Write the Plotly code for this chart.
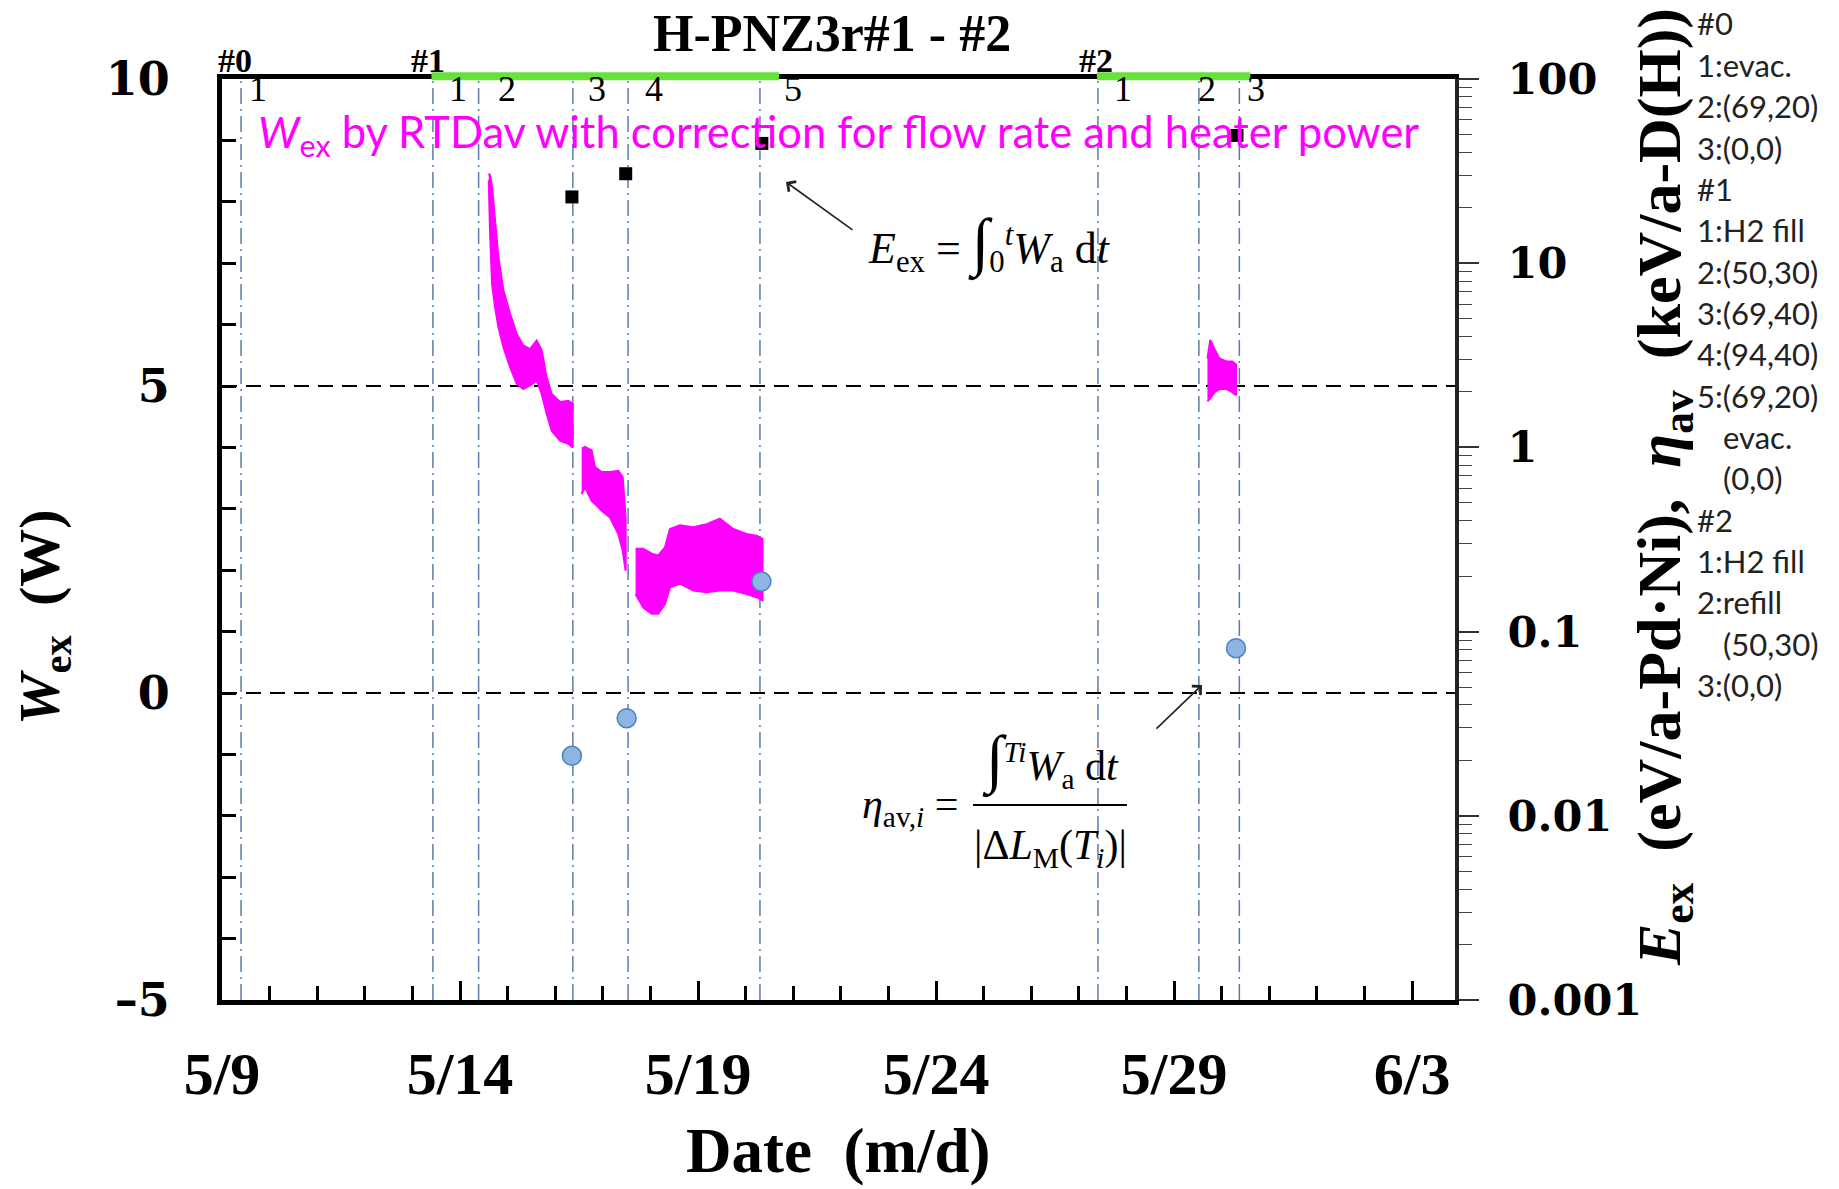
import plotly.graph_objects as go
import pandas as pd

START = pd.Timestamp("2014-05-09")
X_END_DAYS = 25.9

# ---- data (days since 5/9 00:00) ----
event_days = [0.40, 4.43, 5.39, 7.37, 8.53, 11.30, 18.40, 20.52, 21.37]
stage_label_text = ["1", "1", "2", "3", "4", "5", "1", "2", "3"]
stage_label_days = [0.75, 4.96, 5.98, 7.88, 9.08, 11.99, 18.93, 20.69, 21.72]
phase_text = ["#0", "#1", "#2"]
phase_days = [0.27, 4.33, 18.36]
h2_on_days = [4.40, 18.38]
h2_off_days = [11.70, 21.60]

# W_ex (RTDav) band: upper / lower envelopes
seg1_t = [5.603, 5.631, 5.673, 5.736, 5.806, 5.911, 6.050, 6.190, 6.330, 6.470, 6.610, 6.715, 6.820, 6.925, 7.100, 7.275, 7.366]
seg1_hi = [8.46, 8.43, 8.24, 7.75, 7.10, 6.56, 6.18, 5.85, 5.66, 5.60, 5.74, 5.58, 5.14, 4.87, 4.74, 4.76, 4.71]
seg1_lo = [8.35, 7.48, 6.66, 6.28, 5.96, 5.63, 5.31, 5.04, 4.95, 5.01, 5.09, 4.87, 4.55, 4.27, 4.11, 4.06, 4.00]

seg2_t = [7.555, 7.625, 7.765, 7.835, 7.975, 8.150, 8.325, 8.416, 8.479]
seg2_hi = [3.98, 4.01, 3.95, 3.68, 3.60, 3.60, 3.62, 3.52, 2.86]
seg2_lo = [3.24, 3.35, 3.13, 3.08, 2.97, 2.86, 2.59, 2.32, 1.99]

seg3_t = [8.688, 8.849, 9.024, 9.164, 9.304, 9.409, 9.619, 9.899, 10.179, 10.459, 10.738, 11.018, 11.228, 11.354]
seg3_hi = [2.35, 2.35, 2.27, 2.24, 2.37, 2.67, 2.73, 2.70, 2.75, 2.84, 2.67, 2.59, 2.56, 2.51]
seg3_lo = [1.61, 1.39, 1.29, 1.29, 1.45, 1.72, 1.78, 1.67, 1.64, 1.67, 1.67, 1.61, 1.56, 1.51]

seg4_t = [20.70, 20.76, 20.85, 20.95, 21.10, 21.22, 21.30]
seg4_hi = [5.45, 5.75, 5.60, 5.45, 5.40, 5.40, 5.35]
seg4_lo = [4.75, 4.80, 4.90, 4.95, 4.95, 4.90, 4.85]

# E_ex (eV/a-Pd.Ni) and eta_av (keV/a-D(H)) on the log axis
eex_days = [7.35, 8.48, 11.34, 21.32]
eex_vals = [22.9, 30.6, 44.7, 49.4]
eta_days = [7.35, 8.50, 11.33, 21.30]
eta_vals = [0.0212, 0.0339, 0.187, 0.0813]

# axis tick labels
x_tick_days = [0, 5, 10, 15, 20, 25]
x_tick_text = ["5/9", "5/14", "5/19", "5/24", "5/29", "6/3"]
y_tick_vals = [-5, 0, 5, 10]
y_tick_text = ["\u20135", "0", "5", "10"]
y2_tick_vals = [0.001, 0.01, 0.1, 1, 10, 100]
y2_tick_text = ["0.001", "0.01", "0.1", "1", "10", "100"]

notes = ["#0", "1:evac.", "2:(69,20)", "3:(0,0)", "#1", "1:H2 fill", "2:(50,30)",
         "3:(69,40)", "4:(94,40)", "5:(69,20)", "evac.", "(0,0)", "#2",
         "1:H2 fill", "2:refill", "(50,30)", "3:(0,0)"]
notes_indent = [0, 0, 0, 0, 0, 0, 0, 0, 0, 0, 1, 1, 0, 0, 0, 1, 0]


def to_dt(days):
    return [START + pd.Timedelta(days=d) for d in days]


# ---- layout geometry (pixels) ----
W, H = 1839, 1189
L, R, T, B = 222, 1455, 79, 1000


def px(X):
    return (X - L) / (R - L)


def py(Y):
    return (B - Y) / (B - T)


SERIF = "Liberation Serif"
HEAVY = "DejaVu Serif"
SANS = "Lato"
MAG = "#ff00ff"

fig = go.Figure()

for t, hi, lo in [(seg1_t, seg1_hi, seg1_lo), (seg2_t, seg2_hi, seg2_lo),
                  (seg3_t, seg3_hi, seg3_lo), (seg4_t, seg4_hi, seg4_lo)]:
    fig.add_trace(go.Scatter(
        x=to_dt(t + t[::-1]), y=hi + lo[::-1], mode="lines", fill="toself",
        fillcolor=MAG, line=dict(color=MAG, width=2), hoverinfo="skip",
        showlegend=False))

fig.add_trace(go.Scatter(
    x=to_dt(eex_days), y=eex_vals, yaxis="y2", mode="markers",
    marker=dict(symbol="square", size=13, color="black"), showlegend=False))
fig.add_trace(go.Scatter(
    x=to_dt(eta_days), y=eta_vals, yaxis="y2", mode="markers",
    marker=dict(symbol="circle", size=19, color="#8db4e2",
                line=dict(color="#4f81bd", width=1.5)), showlegend=False))

shapes = []
for d in event_days:
    x = START + pd.Timedelta(days=d)
    shapes.append(dict(type="line", xref="x", yref="paper", x0=x, x1=x, y0=0, y1=1,
                       layer="below",
                       line=dict(color="#5b7cab", width=1.5, dash="16px,5px,2px,5px")))
for yv in [5, 0]:
    shapes.append(dict(type="line", xref="paper", yref="y", x0=0, x1=1, y0=yv, y1=yv,
                       layer="below", line=dict(color="black", width=2, dash="15px,9px")))
for a, b in zip(h2_on_days, h2_off_days):
    shapes.append(dict(type="line", xref="x", yref="paper",
                       x0=START + pd.Timedelta(days=a), x1=START + pd.Timedelta(days=b),
                       y0=1.003, y1=1.003, layer="above",
                       line=dict(color="#66e23a", width=8)))
# fraction bar of eta formula
shapes.append(dict(type="line", xref="paper", yref="paper", x0=px(973), x1=px(1127),
                   y0=py(805), y1=py(805), layer="above",
                   line=dict(color="black", width=2)))

ann = []


def text(x, y, s, size, family=SERIF, color="black", xanchor="center",
         yanchor="middle", xref="paper", yref="paper", angle=0):
    ann.append(dict(x=x, y=y, text=s, xref=xref, yref=yref, showarrow=False,
                    xanchor=xanchor, yanchor=yanchor, textangle=angle,
                    font=dict(family=family, size=size, color=color)))


text(px(832), py(34), "<b>H-PNZ3r#1 - #2</b>", 52)
for s, d in zip(phase_text, phase_days):
    text(START + pd.Timedelta(days=d), py(61), "<b>%s</b>" % s, 34, xref="x")
for s, d in zip(stage_label_text, stage_label_days):
    text(START + pd.Timedelta(days=d), py(89), s, 36, xref="x")

text(px(256), py(134),
     "<i>W</i><sub>ex</sub> by RTDav with correction for flow rate and heater power",
     43.5, family=SANS, color=MAG, xanchor="left")

text(px(866), py(244),
     "<i>E</i><sub>ex</sub> = <span style='font-size:64px'>\u222b</span>"
     "<sub>0</sub><sup><i>t</i></sup><i>W</i><sub>a</sub> d<i>t</i>",
     44, xanchor="left")
text(px(860), py(807), "<i>\u03b7</i><sub>av,<i>i</i></sub> =", 42, xanchor="left")
text(px(1050), py(760),
     "<span style='font-size:64px'>\u222b</span><sup><i>Ti</i></sup>"
     "<i>W</i><sub>a</sub> d<i>t</i>", 42)
text(px(1050), py(848),
     "|\u0394<i>L</i><sub>M</sub>(<i>T</i><sub><i>i</i></sub>)|", 42)

# arrows
ann.append(dict(x=px(786), y=py(182), xref="paper", yref="paper", text="",
                showarrow=True, ax=68, ay=49, arrowhead=4, arrowsize=1.5,
                arrowwidth=1.6, arrowcolor="#222"))
ann.append(dict(x=px(1202), y=py(685), xref="paper", yref="paper", text="",
                showarrow=True, ax=-47, ay=45, arrowhead=4, arrowsize=1.5,
                arrowwidth=1.6, arrowcolor="#222"))

# axis titles
text(px(43), py(617), "<b><i>W</i><sub>ex</sub>\u00a0\u00a0(W)</b>", 58, angle=-90)
text(px(838), py(1151), "<b>Date\u00a0\u00a0(m/d)</b>", 63)
text(px(1663), py(487),
     "<b><i>E</i><sub>ex</sub>\u00a0\u00a0(eV/a-Pd\u00b7Ni),\u00a0\u00a0<i>\u03b7</i>"
     "<sub>av</sub>\u00a0\u00a0(keV/a-D(H))</b>", 62, angle=-90)

for i, (s, ind) in enumerate(zip(notes, notes_indent)):
    text(px(1721 if ind else 1695), py(23.5 + i * 41.34), s, 31, family=SANS,
         color="#222", xanchor="left")

minor_log = [m * 10 ** e for e in range(-3, 2) for m in range(2, 10)]

fig.update_layout(
    width=W, height=H,
    margin=dict(l=L, r=W - R, t=T, b=H - B, pad=0),
    paper_bgcolor="white", plot_bgcolor="white",
    font=dict(family=SERIF, color="black"),
    showlegend=False,
    shapes=shapes, annotations=ann,
    xaxis=dict(
        type="date",
        range=[START, START + pd.Timedelta(days=X_END_DAYS)],
        tickmode="array", tickvals=to_dt(x_tick_days), ticktext=x_tick_text,
        ticks="inside", ticklen=19, tickwidth=2.5, tickcolor="black",
        minor=dict(dtick=86400000, tick0=START, ticks="inside", ticklen=14,
                   tickwidth=2.5, tickcolor="black", showgrid=False),
        showgrid=False, zeroline=False,
        showline=True, linewidth=5, linecolor="black", mirror=True,
        tickfont=dict(family=SERIF, size=60, color="black", weight="bold"),
        ticklabelstandoff=17,
    ),
    yaxis=dict(
        range=[-5, 10], tickmode="array", tickvals=y_tick_vals, ticktext=y_tick_text,
        ticks="inside", ticklen=14, tickwidth=2.5, tickcolor="black",
        minor=dict(dtick=1, ticks="inside", ticklen=14, tickwidth=2.5,
                   tickcolor="black", showgrid=False),
        showgrid=False, zeroline=False,
        showline=True, linewidth=5, linecolor="black",
        tickfont=dict(family=HEAVY, size=46, color="black", weight="bold"),
        ticklabelstandoff=38,
    ),
    yaxis2=dict(
        type="log", range=[-3, 2], overlaying="y", side="right",
        tickmode="array", tickvals=y2_tick_vals, ticktext=y2_tick_text,
        ticks="outside", ticklen=20, tickwidth=1.5, tickcolor="#333",
        minor=dict(tickmode="array", tickvals=minor_log, ticks="outside",
                   ticklen=13, tickwidth=1.2, tickcolor="#444", showgrid=False),
        showgrid=False, zeroline=False,
        showline=True, linewidth=4, linecolor="#222",
        tickfont=dict(family=HEAVY, size=43, color="black", weight="bold"),
        ticklabelstandoff=20,
    ),
)

fig.write_html("out.html")
